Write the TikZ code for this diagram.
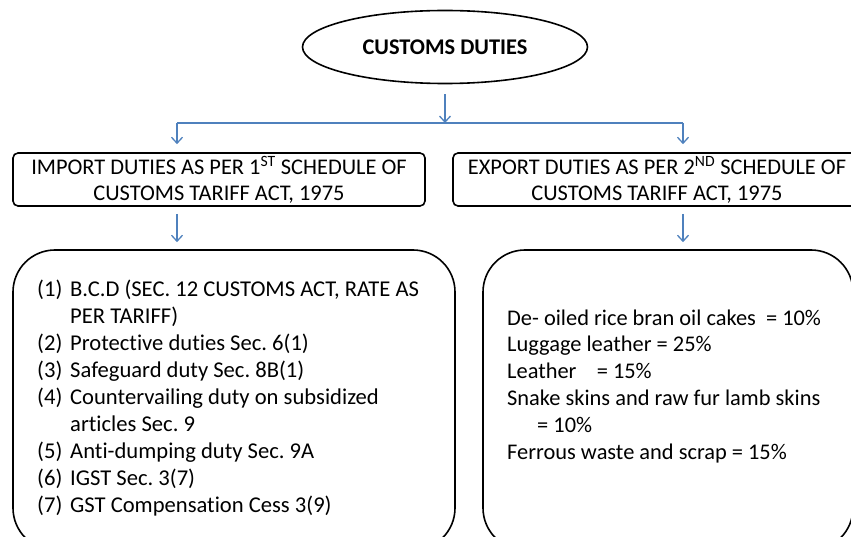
\documentclass[tikz,border=0pt]{standalone}
\usepackage{fontspec}
\setmainfont[Ligatures=NoCommon]{Carlito}
\usetikzlibrary{arrows.meta,shapes.geometric}
\definecolor{arrowblue}{RGB}{79,129,189}
\frenchspacing
\tikzset{
  frame/.style={draw=black,line width=1.6pt},
  headbox/.style={frame,rectangle,rounded corners=5pt,inner sep=0pt},
  bigbox/.style={frame,rectangle,rounded corners=42pt,inner sep=0pt},
  conn/.style={draw=arrowblue,line width=1.3pt},
  arr/.style={conn,-{Straight Barb[length=6pt,width=11pt,line width=1.3pt]}},
  txt/.style={font=\fontsize{22.4}{26}\selectfont,align=center,inner sep=0pt}
}
\begin{document}
\frenchspacing
\begin{tikzpicture}[x=1pt,y=-1pt]
\useasboundingbox (0,0) rectangle (851,537);
\node[frame,ellipse,minimum width=285pt,minimum height=73pt,inner sep=0pt,
      font=\fontsize{22.4}{24}\selectfont\bfseries] (title) at (445,47) {CUSTOMS DUTIES};
\node[headbox,minimum width=412pt,minimum height=53pt] (imp) at (219,179.5) {};
\node[txt] (imptext) at (219,180) {IMPORT DUTIES AS PER 1\textsuperscript{ST} SCHEDULE OF\\CUSTOMS TARIFF ACT, 1975};
\node[headbox,minimum width=405pt,minimum height=53pt] (exp) at (655.5,179.5) {};
\node[txt] (exptext) at (657,180) {EXPORT DUTIES AS PER 2\textsuperscript{ND} SCHEDULE OF\\CUSTOMS TARIFF ACT, 1975};
\node[bigbox,minimum width=442pt,minimum height=300pt] (implist) at (234,400) {};
\node[bigbox,minimum width=370pt,minimum height=300pt] (explist) at (668,400) {};
\node[inner sep=0pt,anchor=base west,font=\fontsize{22.6}{26.9}\selectfont] (impitems) at (37,297)
{\begin{tabular}[t]{@{}p{33pt}@{}l@{}}
(1) & B.C.D (SEC. 12 CUSTOMS ACT, RATE AS\\
    & PER TARIFF)\\
(2) & Protective duties Sec. 6(1)\\
(3) & Safeguard duty Sec. 8B(1)\\
(4) & Countervailing duty on subsidized\\
    & articles Sec. 9\\
(5) & Anti-dumping duty Sec. 9A\\
(6) & IGST Sec. 3(7)\\
(7) & GST Compensation Cess 3(9)
\end{tabular}};
\node[inner sep=0pt,anchor=base west,font=\fontsize{22.4}{26.8}\selectfont] (expitems) at (507,325)
{\begin{tabular}[t]{@{}l@{}}
De- oiled rice bran oil cakes\ \ = 10\%\\
Luggage leather = 25\%\\
Leather\ \ \ \ = 15\%\\
Snake skins and raw fur lamb skins\\
\hspace{30pt}= 10\%\\
Ferrous waste and scrap = 15\%
\end{tabular}};
\coordinate (jc) at (445,123);
\coordinate (jl) at (177,123);
\coordinate (jr) at (683,123);
\draw[arr] ([yshift=-10pt]title.south) -- (jc);
\draw[conn] (jl) -- (jr);
\draw[arr,shorten >=8pt] (jl) -- (jl |- imp.north);
\draw[arr,shorten >=8pt] (jr) -- (jr |- exp.north);
\draw[arr,shorten <=7pt,shorten >=7pt] (jl |- imp.south) -- (jl |- implist.north);
\draw[arr,shorten <=7pt,shorten >=7pt] (jr |- exp.south) -- (jr |- explist.north);
\end{tikzpicture}
\end{document}
